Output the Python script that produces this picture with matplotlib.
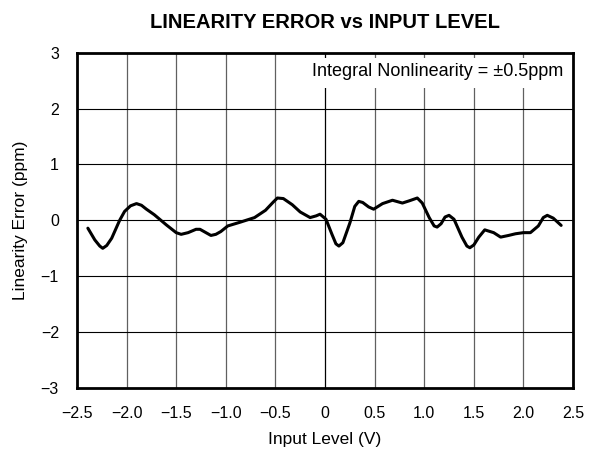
import numpy as np
import matplotlib
matplotlib.use("Agg")
import matplotlib.pyplot as plt
from matplotlib.patches import Rectangle

plt.rcParams['font.family'] = ['Liberation Sans', 'DejaVu Sans']

# values
input_level = [-2.39, -2.32, -2.27, -2.24, -2.20, -2.15, -2.07, -2.02, -1.96, -1.90,
               -1.85, -1.80, -1.72, -1.60, -1.50, -1.45, -1.38, -1.30, -1.26, -1.20,
               -1.15, -1.10, -1.05, -0.98, -0.85, -0.71, -0.60, -0.52, -0.48, -0.42,
               -0.33, -0.25, -0.15, -0.09, -0.05, 0.01, 0.07, 0.11, 0.14, 0.18,
               0.25, 0.30, 0.34, 0.38, 0.44, 0.49, 0.58, 0.68, 0.78, 0.85,
               0.93, 0.98, 1.05, 1.10, 1.13, 1.17, 1.21, 1.25, 1.30, 1.38,
               1.43, 1.46, 1.50, 1.55, 1.61, 1.70, 1.77, 1.85, 1.92, 2.00,
               2.07, 2.15, 2.20, 2.24, 2.30, 2.38]
lin_error = [-0.14, -0.35, -0.46, -0.50, -0.45, -0.32, 0.00, 0.16, 0.26, 0.30,
             0.27, 0.20, 0.10, -0.08, -0.22, -0.25, -0.22, -0.16, -0.16, -0.22,
             -0.27, -0.25, -0.20, -0.10, -0.03, 0.05, 0.18, 0.33, 0.40, 0.39,
             0.28, 0.15, 0.05, 0.08, 0.11, 0.02, -0.25, -0.42, -0.46, -0.40,
             -0.05, 0.25, 0.34, 0.32, 0.24, 0.20, 0.30, 0.36, 0.31, 0.35,
             0.40, 0.31, 0.05, -0.10, -0.12, -0.06, 0.06, 0.09, 0.02, -0.30,
             -0.46, -0.49, -0.44, -0.30, -0.17, -0.22, -0.30, -0.27, -0.24, -0.22,
             -0.22, -0.10, 0.05, 0.09, 0.04, -0.09]

x_ticks = [-2.5, -2.0, -1.5, -1.0, -0.5, 0, 0.5, 1.0, 1.5, 2.0, 2.5]
x_labels = ['\u22122.5', '\u22122.0', '\u22121.5', '\u22121.0', '\u22120.5', '0',
            '0.5', '1.0', '1.5', '2.0', '2.5']
y_ticks = [-3, -2, -1, 0, 1, 2, 3]
y_labels = ['\u22123', '\u22122', '\u22121', '0', '1', '2', '3']

fig = plt.figure(figsize=(5.92, 4.51), dpi=100)
ax = fig.add_axes([0.130, 0.1397, 0.838, 0.7434])

for xv in x_ticks[1:-1]:
    ax.axvline(xv, color='#606060' if xv != 0 else 'black', lw=0.9, zorder=1)
for yv in y_ticks[1:-1]:
    ax.axhline(yv, color='black', lw=0.8, zorder=1)

ax.plot(input_level, lin_error, color='black', lw=2.2, zorder=3,
        solid_capstyle='round', solid_joinstyle='round')

# white box behind the annotation hides the grid lines
ax.add_patch(Rectangle((-0.1, 2.36), 2.57, 0.54, facecolor='white',
                       edgecolor='none', zorder=2))
ax.text(2.40, 2.66, 'Integral Nonlinearity = \u00b10.5ppm', ha='right', va='center',
        fontsize=13, zorder=4)

ax.set_xlim(-2.5, 2.5)
ax.set_ylim(-3, 3)
ax.set_xticks(x_ticks)
ax.set_xticklabels(x_labels)
ax.set_yticks(y_ticks)
ax.set_yticklabels(y_labels)
ax.tick_params(axis='x', length=0, labelsize=11.5, pad=13)
ax.tick_params(axis='y', length=0, labelsize=11.5, pad=13)
for s in ax.spines.values():
    s.set_linewidth(2.0)

ax.set_xlabel('Input Level (V)', fontsize=12.5, labelpad=8)
ax.set_ylabel('Linearity Error (ppm)', fontsize=12.5, labelpad=9)
ax.set_title('LINEARITY ERROR vs INPUT LEVEL', fontsize=14.5, fontweight='bold', pad=18)

fig.savefig('out.png', dpi=100)
